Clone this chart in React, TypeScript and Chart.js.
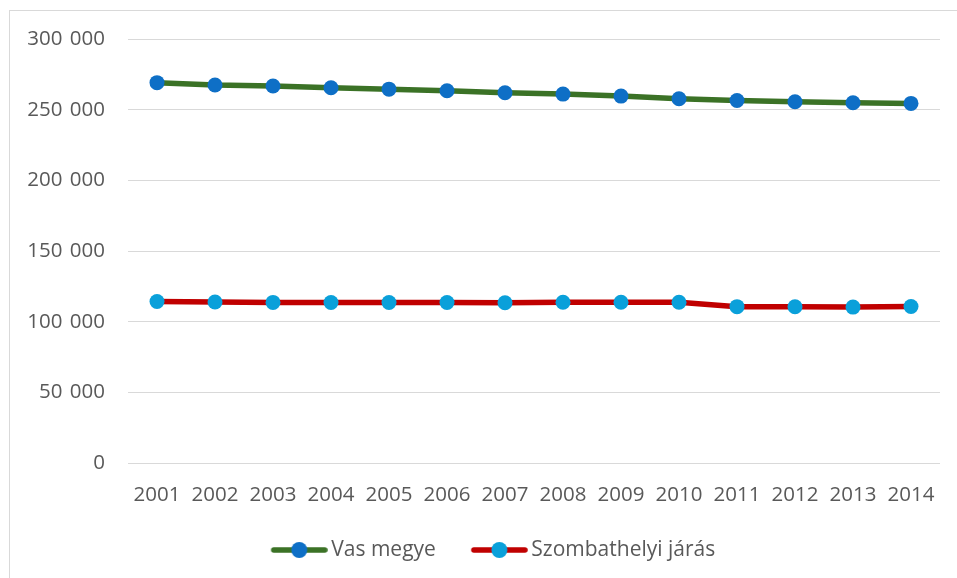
import React, { useEffect, useRef } from "react";
import { Chart, registerables } from "chart.js";

Chart.register(...registerables);

const years = ["2001", "2002", "2003", "2004", "2005", "2006", "2007", "2008", "2009", "2010", "2011", "2012", "2013", "2014"];
const vasMegye = [269300, 267600, 266900, 265700, 264700, 263600, 262200, 261200, 259800, 257900, 256700, 255800, 255100, 254600];
const szombathelyi = [114400, 114000, 113700, 113600, 113600, 113600, 113500, 113800, 113800, 113800, 110700, 110600, 110400, 110800];
const seriesNames = ["Vas megye", "Szombathelyi járás"];
const lineColors = ["#3B7226", "#C00000"];
const markerColors = ["#0E6FC6", "#0AA0DA"];

const FONT = "'Open Sans', 'Noto Sans', sans-serif";
const FS = 20.5;
const LFS = 21;
const TEXT = "#595959";

function fmt(v: number) {
  return String(v).replace(/\B(?=(\d{3})+(?!\d))/g, " \u200A");
}

function legendImage(line: string, marker: string) {
  const c = document.createElement("canvas");
  c.width = 87;
  c.height = 18;
  const ctx = c.getContext("2d")!;
  ctx.strokeStyle = line;
  ctx.lineWidth = 5.5;
  ctx.lineCap = "round";
  ctx.beginPath();
  ctx.moveTo(33, 9);
  ctx.lineTo(84, 9);
  ctx.stroke();
  ctx.fillStyle = marker;
  ctx.beginPath();
  ctx.arc(58.5, 9, 8, 0, Math.PI * 2);
  ctx.fill();
  return c;
}

export default function App() {
  const ref = useRef<HTMLCanvasElement>(null);
  useEffect(() => {
    if (!ref.current) return;
    const imgs = [legendImage(lineColors[0], markerColors[0]), legendImage(lineColors[1], markerColors[1])];
    const L = 13;
    const chart = new Chart(ref.current, {
      type: "line",
      data: {
        labels: years,
        datasets: [
          {
            label: seriesNames[0],
            data: vasMegye,
            borderColor: lineColors[0],
            backgroundColor: markerColors[0],
            borderWidth: 5.5,
            pointRadius: 7.5,
            pointBorderWidth: 0,
            pointBackgroundColor: markerColors[0],
            pointBorderColor: markerColors[0],
            tension: 0,
          },
          {
            label: seriesNames[1],
            data: szombathelyi,
            borderColor: lineColors[1],
            backgroundColor: markerColors[1],
            borderWidth: 5.5,
            pointRadius: 7.5,
            pointBorderWidth: 0,
            pointBackgroundColor: markerColors[1],
            pointBorderColor: markerColors[1],
            tension: 0,
          },
        ],
      },
      options: {
        animation: false,
        responsive: false,
        devicePixelRatio: 1,
        layout: { padding: { left: L, right: 36, top: 0, bottom: 11.5 } },
        scales: {
          x: {
            offset: true,
            grid: { display: false, drawTicks: false },
            border: { display: false },
            ticks: { color: TEXT, font: { family: FONT, size: FS }, padding: 20, maxRotation: 0 },
            afterFit: (s: any) => {
              s.height = 64.5;
            },
          },
          y: {
            min: 0,
            max: 300000,
            ticks: {
              stepSize: 50000,
              color: TEXT,
              font: { family: FONT, size: FS },
              padding: 23,
              callback: (v: any) => fmt(Number(v)),
            },
            grid: { color: "#D9D9D9", lineWidth: 1, drawTicks: false },
            border: { display: false },
            afterFit: (s: any) => {
              s.width = 118 - L;
            },
          },
        },
        plugins: {
          tooltip: { enabled: false },
          legend: {
            position: "bottom",
            labels: {
              usePointStyle: true,
              pointStyleWidth: 73,
              padding: 12,
              color: TEXT,
              font: { family: FONT, size: LFS },
              generateLabels: (c: any) =>
                Chart.defaults.plugins.legend.labels.generateLabels(c).map((l: any, i: number) => ({
                  ...l,
                  pointStyle: imgs[i],
                })),
            },
          },
        },
      } as any,
    });
    return () => chart.destroy();
  }, []);

  return (
    <>
      <div
        style={{
          position: "fixed",
          left: 9,
          top: 10,
          width: 968,
          height: 580,
          border: "1px solid #D9D9D9",
          boxSizing: "border-box",
          background: "#fff",
        }}
      />
      <canvas
        ref={ref}
        width={966}
        height={578}
        style={{ position: "fixed", left: 10, top: 4, display: "block", width: 966, height: 578 }}
      />
    </>
  );
}
